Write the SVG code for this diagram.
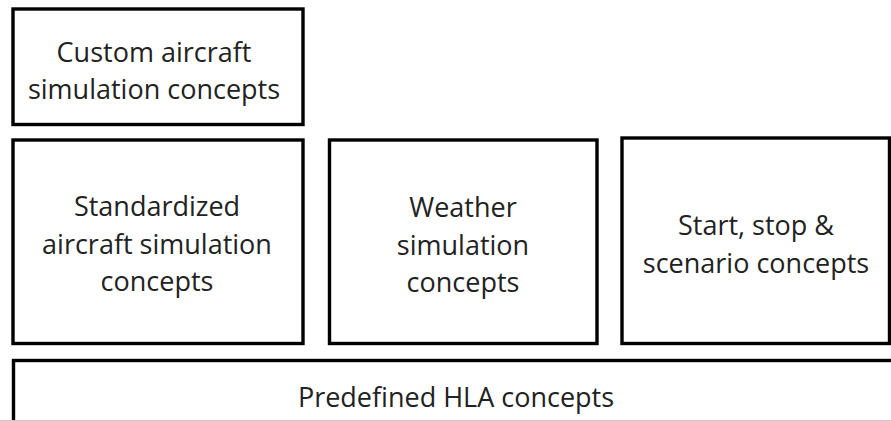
<svg xmlns="http://www.w3.org/2000/svg" width="891" height="421" viewBox="0 0 891 421">
<style>
.box{fill:#fff;stroke:#000;stroke-width:3.4}
.t{font-family:"Open Sans","Liberation Sans",sans-serif;font-size:27px;fill:#222;text-anchor:middle}
</style>
<rect width="891" height="421" fill="#fff"/>
<g id="custom">
<rect class="box" x="13" y="9" width="290" height="115.5"/>
<text class="t" x="154" y="62">Custom aircraft</text>
<text class="t" x="154" y="99">simulation concepts</text>
</g>
<g id="standardized">
<rect class="box" x="13" y="140" width="290" height="203.5"/>
<text class="t" x="157" y="216">Standardized</text>
<text class="t" x="157" y="254">aircraft simulation</text>
<text class="t" x="157" y="291">concepts</text>
</g>
<g id="weather">
<rect class="box" x="329.5" y="140" width="267.5" height="203.5"/>
<text class="t" x="463" y="217">Weather</text>
<text class="t" x="463" y="255">simulation</text>
<text class="t" x="463" y="292">concepts</text>
</g>
<g id="startstop">
<rect class="box" x="622" y="138" width="267.5" height="205.5"/>
<text class="t" x="756" y="235">Start, stop &amp;</text>
<text class="t" x="756" y="273">scenario concepts</text>
</g>
<g id="hla">
<rect class="box" x="13.5" y="360.5" width="900" height="100"/>
<text class="t" x="456" y="407">Predefined HLA concepts</text>
</g>
<g id="connectors"></g>
<line x1="0" y1="420.5" x2="891" y2="420.5" stroke="#c8c8c8" stroke-width="1"/>
</svg>
